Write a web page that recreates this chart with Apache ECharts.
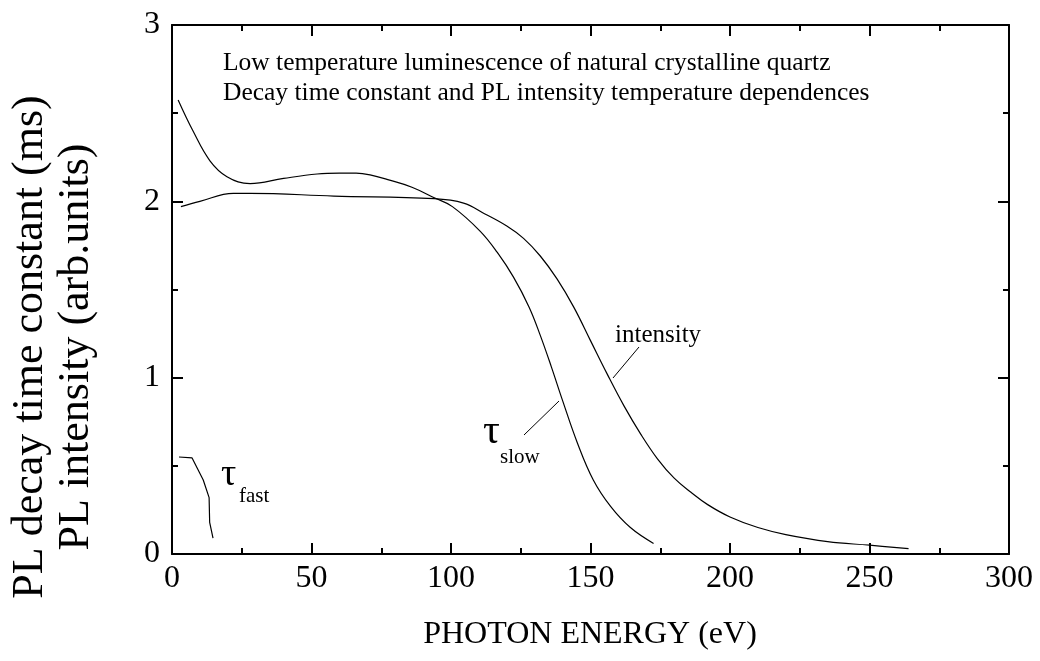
<!DOCTYPE html>
<html>
<head>
<meta charset="utf-8">
<script src="https://cdn.jsdelivr.net/npm/echarts@6/dist/echarts.min.js"></script>
<style>html,body{margin:0;padding:0;background:#fff}#c{width:1040px;height:661px}</style>
</head>
<body>
<div id="c"></div>
<script>
// ---- data ----
var xTicks = [0, 50, 100, 150, 200, 250, 300];
var yTicks = [0, 1, 2, 3];

var tauSlowX = [2.2, 7.5, 13.6, 19.7, 28, 40, 52, 60, 66, 71, 78, 86, 94, 100.5, 110.5, 116.6, 122.4, 128, 132, 136, 140, 145.3, 151, 157.2, 164.3, 172.6];
var tauSlowY = [2.575, 2.40, 2.23, 2.14, 2.10, 2.13, 2.155, 2.16, 2.16, 2.15, 2.12, 2.08, 2.02, 1.97, 1.83, 1.71, 1.57, 1.40, 1.24, 1.06, 0.87, 0.63, 0.42, 0.27, 0.15, 0.06];

var intensityX = [3.2, 10, 22, 28, 58, 94, 104.5, 112, 120, 126, 132, 138, 144, 150, 156, 162, 168, 174, 180, 186, 192, 200, 210, 220, 235, 250, 264];
var intensityY = [1.97, 2.0, 2.045, 2.045, 2.03, 2.015, 1.99, 1.93, 1.86, 1.79, 1.69, 1.56, 1.40, 1.21, 1.02, 0.84, 0.68, 0.54, 0.43, 0.35, 0.28, 0.21, 0.15, 0.11, 0.07, 0.05, 0.03];

var tauFastX = [2.5, 7.2, 11.2, 13.3, 13.5, 14.7];
var tauFastY = [0.55, 0.545, 0.42, 0.32, 0.18, 0.09];

var titleLines = ['Low temperature luminescence of natural crystalline quartz',
                  'Decay time constant and PL intensity temperature dependences'];
var xTitle = 'PHOTON ENERGY (eV)';
var yTitle = ['PL decay time constant (ms)', 'PL intensity (arb.units)'];

function zip(xs, ys) { return xs.map(function (x, i) { return [x, ys[i]]; }); }

var FONT = '"Liberation Serif", "Times New Roman", serif';
var black = '#000';

function xAxisCfg(pos, showLabel) {
  return {
    type: 'value', position: pos, min: 0, max: 300, interval: 50,
    axisLine: { show: true, onZero: false, lineStyle: { color: black, width: 2 } },
    axisTick: { show: true, inside: true, length: 11, lineStyle: { color: black, width: 2 } },
    minorTick: { show: true, splitNumber: 2, length: 6, lineStyle: { color: black, width: 2 } },
    splitLine: { show: false },
    axisLabel: { show: showLabel, color: black, fontFamily: FONT, fontSize: 32, margin: 9 }
  };
}
function yAxisCfg(pos, showLabel) {
  return {
    type: 'value', position: pos, min: 0, max: 3, interval: 1,
    axisLine: { show: true, onZero: false, lineStyle: { color: black, width: 2 } },
    axisTick: { show: true, inside: true, length: 11, lineStyle: { color: black, width: 2 } },
    minorTick: { show: true, splitNumber: 2, length: 6, lineStyle: { color: black, width: 2 } },
    splitLine: { show: false },
    axisLabel: { show: showLabel, color: black, fontFamily: FONT, fontSize: 32, margin: 12 }
  };
}

var chart = echarts.init(document.getElementById('c'), null, { renderer: 'canvas' });
var lineStyle = { color: black, width: 1.2 };
chart.setOption({
  animation: false,
  backgroundColor: '#fff',
  grid: { left: 172, right: 31, top: 25, bottom: 107, containLabel: false },
  xAxis: [xAxisCfg('bottom', true), xAxisCfg('top', false)],
  yAxis: [yAxisCfg('left', true), yAxisCfg('right', false)],
  series: [
    { type: 'line', data: zip(tauSlowX, tauSlowY), smooth: 0.4, showSymbol: false, lineStyle: lineStyle },
    { type: 'line', data: zip(intensityX, intensityY), smooth: 0.4, showSymbol: false, lineStyle: lineStyle },
    { type: 'line', data: zip(tauFastX, tauFastY), smooth: false, showSymbol: false, lineStyle: lineStyle }
  ],
  graphic: [
    { type: 'text', left: 223, top: 50, style: { text: titleLines[0], font: '25.5px ' + FONT, fill: black } },
    { type: 'text', left: 223, top: 80, style: { text: titleLines[1], font: '25.5px ' + FONT, fill: black } },
    { type: 'text', x: 590, y: 651, style: { text: xTitle, font: '32px ' + FONT, fill: black, textAlign: 'center', textVerticalAlign: 'bottom' } },
    { type: 'text', x: 53, y: 347, rotation: Math.PI / 2,
      style: { text: yTitle.join('\n'), font: '44px ' + FONT, lineHeight: 46, fill: black, textAlign: 'center', textVerticalAlign: 'middle' } },
    // intensity label + pointer
    { type: 'text', x: 615, y: 348, style: { text: 'intensity', font: '25px ' + FONT, fill: black, textVerticalAlign: 'bottom' } },
    { type: 'line', shape: { x1: 639, y1: 347, x2: 613, y2: 378 }, style: { stroke: black, lineWidth: 1 } },
    // tau slow
    { type: 'text', x: 483, y: 453, style: { text: 'τ', font: '42px ' + FONT, fill: black, textVerticalAlign: 'bottom' } },
    { type: 'text', x: 500, y: 468, style: { text: 'slow', font: '21px ' + FONT, fill: black, textVerticalAlign: 'bottom' } },
    { type: 'line', shape: { x1: 524, y1: 435, x2: 559, y2: 401 }, style: { stroke: black, lineWidth: 1 } },
    // tau fast
    { type: 'text', x: 221, y: 494, style: { text: 'τ', font: '38px ' + FONT, fill: black, textVerticalAlign: 'bottom' } },
    { type: 'text', x: 239, y: 507, style: { text: 'fast', font: '21px ' + FONT, fill: black, textVerticalAlign: 'bottom' } }
  ]
});
</script>
</body>
</html>
